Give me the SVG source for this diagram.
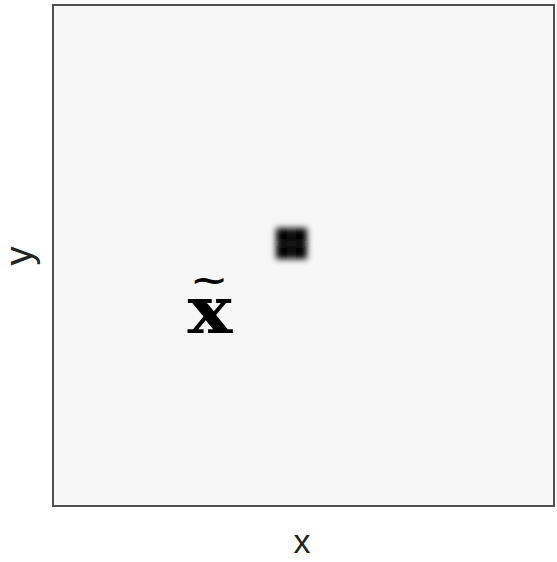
<svg xmlns="http://www.w3.org/2000/svg" width="557" height="562" viewBox="0 0 557 562">
<defs>
<style>
.axis{font-family:"Liberation Sans",Arial,sans-serif;fill:#222;}
.frame{fill:#f7f7f7;stroke:#505050;stroke-width:2;}
.math{font-family:"DejaVu Serif",serif;font-weight:bold;fill:#000;}
</style>
<filter id="blur" x="-50%" y="-50%" width="200%" height="200%">
<feGaussianBlur stdDeviation="3"/>
</filter>
</defs>
<rect width="557" height="562" fill="#ffffff"/>
<g id="plot">
<rect class="frame" x="53" y="5" width="501" height="501"/>
</g>
<g id="blob" filter="url(#blur)">
<rect x="276" y="228" width="15" height="15" fill="#000"/>
<rect x="292" y="228" width="15" height="15" fill="#000"/>
<rect x="276" y="244" width="15" height="15" fill="#000"/>
<rect x="292" y="244" width="15" height="15" fill="#000"/>
<rect x="290" y="228" width="3" height="31" fill="#1a1a1a"/>
<rect x="276" y="242" width="31" height="3" fill="#1a1a1a"/>
</g>
<g id="label-xtilde">
<text class="math" x="210" y="333" font-size="66" text-anchor="middle" transform="translate(210 0) scale(1.14 1) translate(-210 0)">x</text>
<text class="math" x="209" y="292" font-size="42" font-weight="normal" text-anchor="middle" transform="translate(209 0) scale(1.1 0.8) translate(-209 73)">~</text>
</g>
<g id="axis-labels">
<text class="axis" x="302" y="553" font-size="34" text-anchor="middle">x</text>
<text class="axis" x="0" y="0" font-size="38" text-anchor="middle" transform="translate(32 256) rotate(-90)">y</text>
</g>
</svg>
